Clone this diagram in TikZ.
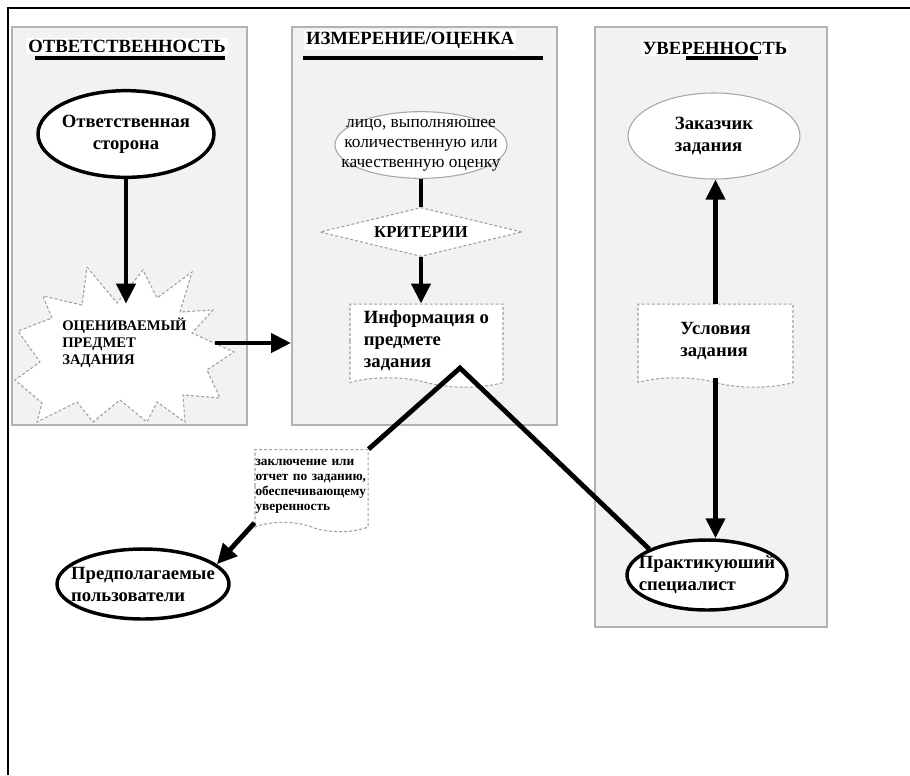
\documentclass[tikz,border=0pt]{standalone}
\usepackage{fontspec}
\setmainfont{Liberation Serif}
\usetikzlibrary{shapes.geometric,shapes.symbols,arrows.meta}
\tikzset{panel box/.style={
    rectangle, draw=gray!60, fill=gray!10, line width=1.4pt, inner sep=0pt},
  title text/.style={fill=white, font=\fontsize{14}{16}\selectfont\bfseries, inner sep=1.5pt},
  title bar/.style={line width=2.4pt},
  body font/.style={font=\fontsize{14}{16.5}\selectfont\bfseries},
  thick oval/.style={ellipse, draw, fill=white, line width=2.6pt, inner sep=0pt},
  thin oval/.style={ellipse, draw=gray!70, fill=white, line width=0.8pt, inner sep=0pt},
  dashed edge/.style={draw=gray!75, line width=0.8pt, dash pattern=on 2.2pt off 1.6pt},
  doc shape/.style={tape, tape bend top=none, tape bend bottom=out and in,
    tape bend height=7pt, dashed edge, fill=white, align=left},
  big arrow/.style={line width=3.6pt, -{Triangle[length=15pt,width=14pt]}},
  heavy line/.style={line width=3.6pt}
}

\begin{document}
\begin{tikzpicture}[x=0.75pt, y=-0.75pt]
        \useasboundingbox (0,0) rectangle (910,775);
        %frame
        \draw[line width=2.2pt] (8,775) -- (8,8) -- (910,8);

        %panels
        \node[panel box, minimum width=176.25pt, minimum height=298.5pt] (respPanel) at (129.5,226){};
        \node[panel box, minimum width=198.75pt, minimum height=298.5pt] (measurePanel) at (424.5,226){};
        \node[panel box, minimum width=174pt, minimum height=450pt] (assurPanel) at (711,327){};

        %titles
        \node[title text] (respTitle) at (127,46){ОТВЕТСТВЕННОСТЬ};
        \node[title text] (measureTitle) at (410,40){ИЗМЕРЕНИЕ/ОЦЕНКА};
        \node[title text] (assurTitle) at (715,48){УВЕРЕННОСТЬ};
        \draw[title bar] (35,58) -- (225,58);
        \draw[title bar] (303,58) -- (543,58);
        \draw[title bar] (686,58) -- (758,58);

        %Responsibility
        \node[thick oval, minimum width=132pt, minimum height=65pt,
          label={[align=center, body font]center:Ответственная\\сторона}] (resp) at (126,134){};
        \draw[dashed edge, fill=white] (87,267) -- (117,303) -- (143,270) -- (157,298) -- (192,272)
          -- (180,312) -- (213,310) -- (192,333) -- (234,352) -- (207,370) -- (220,398)
          -- (183,395) -- (185,422) -- (157,402) -- (147,422) -- (120,400) -- (93,422)
          -- (77,402) -- (37,422) -- (42,403) -- (15,380) -- (40,362) -- (18,331)
          -- (52,318) -- (43,296) -- (82,305) -- cycle;
        \node[anchor=west, text width=111pt, inner xsep=3pt, minimum height=58.5pt, align=left,
          font=\fontsize{11}{12.8}\selectfont\bfseries] (subject) at (58,343){ОЦЕНИВАЕМЫЙ\\ПРЕДМЕТ\\ЗАДАНИЯ};
        \draw[big arrow] (resp.south) -- (resp.south |- subject.north);
        \draw[big arrow] (subject.east) -- (subject.east -| measurePanel.west);

        %Measurement
        \node[thin oval, minimum width=129pt, minimum height=50pt,
          label={[align=center, font=\fontsize{13}{15}\selectfont]center:лицо, выполняюшее\\количественную или\\качественную оценку}] (evaluator) at (421,145){};
        \node[diamond, dashed edge, fill=white, minimum width=151.5pt, minimum height=36.75pt, inner sep=0pt,
          label={[font=\fontsize{12.5}{14}\selectfont\bfseries]center:КРИТЕРИИ}] (criteria) at (421,232){};
        \node[doc shape, minimum width=114.75pt, minimum height=62.25pt, body font] (info) at (426.5,341){Информация о\\предмете\\задания};
        \draw[heavy line] (evaluator.south) -- (criteria.north);
        \draw[big arrow] (criteria.south) -- (criteria.south |- info.north);

        %Assurance
        \node[thin oval, minimum width=129pt, minimum height=64.5pt,
          label={[align=left, body font]center:Заказчик\\задания}] (client) at (714,136){};
        \node[doc shape, minimum width=116.25pt, minimum height=62.25pt, body font] (conditions) at (715.5,341){Условия\\задания};
        \node[thick oval, minimum width=120pt, minimum height=52.5pt,
          label={[align=left, body font]center:Практикуюший\\специалист}] (practitioner) at (707,575){};
        \draw[big arrow] (conditions.north) -- (conditions.north |- client.south);
        \draw[big arrow] (conditions.south) -- (conditions.south |- practitioner.north);

        %Report
        \node[doc shape, minimum width=84.75pt, minimum height=61.5pt, text width=84pt, inner xsep=0.4pt,
          font=\fontsize{10}{11.25}\selectfont\bfseries] (report) at (311.5,486){заключение или\\отчет по заданию,\\обеспечивающему\\уверенность};
        \node[thick oval, minimum width=129pt, minimum height=52.5pt,
          label={[align=left, body font]center:Предполагаемые\\пользователи}] (users) at (143,584){};
        \coordinate (apex) at (460,368);
        \draw[heavy line] (report.north east) -- (apex) -- (practitioner.north west);
        \draw[big arrow] (report.south west) -- (users.15);
\end{tikzpicture}
\end{document}
